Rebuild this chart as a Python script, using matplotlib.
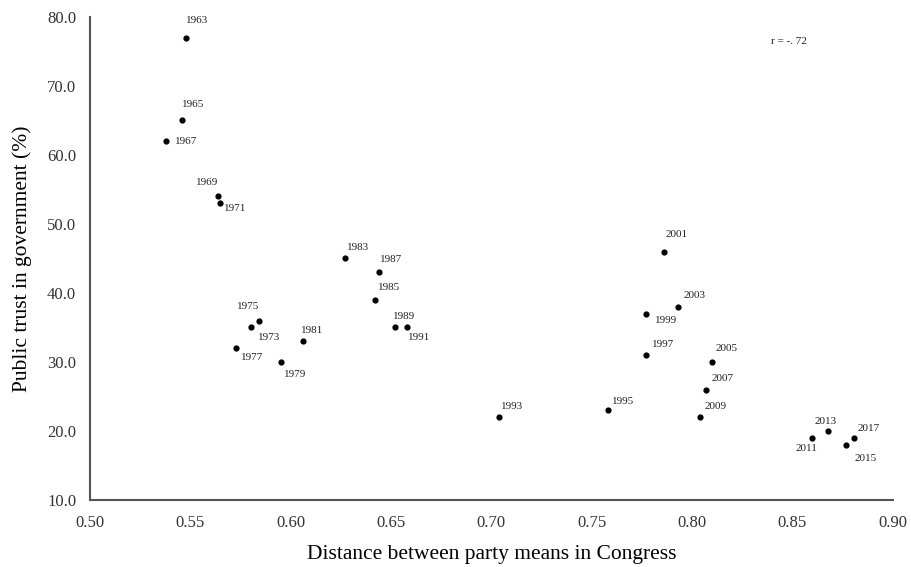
import matplotlib
matplotlib.use("Agg")
import matplotlib.pyplot as plt

plt.rcParams['font.family'] = ['Liberation Serif', 'DejaVu Serif']

# data
years = [1963, 1965, 1967, 1969, 1971, 1973, 1975, 1977, 1979, 1981,
         1983, 1985, 1987, 1989, 1991, 1993, 1995, 1997, 1999, 2001,
         2003, 2005, 2007, 2009, 2011, 2013, 2015, 2017]
distance = [0.548, 0.546, 0.538, 0.564, 0.565, 0.580, 0.584, 0.573, 0.595, 0.606,
            0.627, 0.642, 0.644, 0.652, 0.658, 0.704, 0.758, 0.777, 0.777, 0.786,
            0.793, 0.810, 0.807, 0.804, 0.860, 0.868, 0.877, 0.881]
trust = [77, 65, 62, 54, 53, 35, 36, 32, 30, 33,
         45, 39, 43, 35, 35, 22, 23, 31, 37, 46,
         38, 30, 26, 22, 19, 20, 18, 19]

# label offsets in pixels (dx, dy), with alignment
offsets = {
    1963: (11, 17, 'center'), 1965: (11, 16, 'center'), 1967: (9, 0, 'left'),
    1969: (-11, 14, 'center'), 1971: (4, -5, 'left'), 1973: (19, -10, 'center'),
    1975: (-10, 14, 'center'), 1977: (16, -9, 'center'), 1979: (14, -13, 'center'),
    1981: (9, 11, 'center'), 1983: (13, 11, 'center'), 1985: (14, 12, 'center'),
    1987: (12, 13, 'center'), 1989: (9, 11, 'center'), 1991: (12, -10, 'center'),
    1993: (13, 11, 'center'), 1995: (15, 9, 'center'), 1997: (17, 11, 'center'),
    1999: (20, -7, 'center'), 2001: (13, 17, 'center'), 2003: (17, 11, 'center'),
    2005: (15, 13, 'center'), 2007: (17, 11, 'center'), 2009: (16, 11, 'center'),
    2011: (-6, -11, 'center'), 2013: (-3, 9, 'center'), 2015: (19, -14, 'center'),
    2017: (14, 9, 'center'),
}

fig = plt.figure(figsize=(9.12, 5.67), dpi=100)
ax = fig.add_axes([0.0987, 0.1182, 0.880, 0.852])

ax.scatter(distance, trust, s=12, c='black', zorder=3)

px = 72 / 100
for yr, xv, yv in zip(years, distance, trust):
    dx, dy, ha = offsets[yr]
    ax.annotate(str(yr), (xv, yv), xytext=(dx * px, dy * px), textcoords='offset points',
                ha=ha, va='center', fontsize=8, color='#222222')

ax.text(0.8483, 76.4, 'r = -. 72', fontsize=8, ha='center', va='center', color='#222222')

ax.set_xlim(0.50, 0.90)
ax.set_ylim(10, 80)
ax.set_xticks([0.50, 0.55, 0.60, 0.65, 0.70, 0.75, 0.80, 0.85, 0.90])
ax.set_xticklabels([f"{v:.2f}" for v in ax.get_xticks()])
ax.set_yticks([10, 20, 30, 40, 50, 60, 70, 80])
ax.set_yticklabels([f"{v:.1f}" for v in ax.get_yticks()])
ax.tick_params(length=0, labelsize=12, colors='#333333')
ax.tick_params(axis='x', pad=11)
ax.tick_params(axis='y', pad=10)

for s in ['top', 'right']:
    ax.spines[s].set_visible(False)
for s in ['left', 'bottom']:
    ax.spines[s].set_color('#555555')
    ax.spines[s].set_linewidth(1.5)

ax.set_xlabel('Distance between party means in Congress', fontsize=15.5, labelpad=10)
ax.set_ylabel('Public trust in government (%)', fontsize=15.5, labelpad=11)

fig.savefig('out.png', dpi=100)
